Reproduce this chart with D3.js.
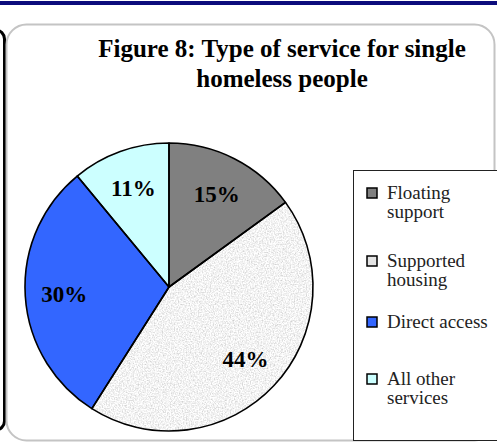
<!DOCTYPE html>
<html>
<head>
<meta charset="utf-8">
<script src="https://cdn.jsdelivr.net/npm/d3@7"></script>
<style>
  body { margin: 0; background: #fff; }
  svg { display: block; }
</style>
</head>
<body>
<div id="wrapper"></div>
<script>
// dados do gráfico
const categories = ["Floating support", "Supported housing", "Direct access", "All other services"]
const shares = [15, 44, 30, 11]
const legendLines = [["Floating", "support"], ["Supported", "housing"], ["Direct access"], ["All other", "services"]]
const titleLines = ["Figure 8: Type of service for single", "homeless people"]

function drawPie() {
    const width = 497
    const height = 443

    const svg = d3.select("#wrapper")
        .append("svg")
            .attr("width", width)
            .attr("height", height)

    // textura salpicada do "Supported housing"
    const defs = svg.append("defs")
    const speckle = defs.append("filter")
        .attr("id", "speckle")
        .attr("x", 0).attr("y", 0).attr("width", 1).attr("height", 1)
    speckle.append("feTurbulence")
        .attr("type", "fractalNoise")
        .attr("baseFrequency", 0.75)
        .attr("numOctaves", 2)
        .attr("seed", 3)
        .attr("result", "noise")
    speckle.append("feColorMatrix")
        .attr("in", "noise")
        .attr("type", "matrix")
        .attr("values", "0.75 0 0 0 0.52  0.75 0 0 0 0.52  0.75 0 0 0 0.52  0 0 0 0 1")
        .attr("result", "grey")
    speckle.append("feComposite")
        .attr("in", "grey")
        .attr("in2", "SourceGraphic")
        .attr("operator", "in")

    // barra azul no topo
    svg.append("rect")
        .attr("x", 0).attr("y", 1)
        .attr("width", width).attr("height", 4)
        .attr("fill", "#0c0c7c")

    // moldura preta à esquerda
    svg.append("rect")
        .attr("x", -30).attr("y", 30)
        .attr("width", 34.5).attr("height", 400)
        .attr("rx", 9)
        .attr("fill", "none")
        .attr("stroke", "#000")
        .attr("stroke-width", 3)

    // moldura cinza arredondada
    svg.append("rect")
        .attr("x", 6.5).attr("y", 24.5)
        .attr("width", 488).attr("height", 416)
        .attr("rx", 20)
        .attr("fill", "none")
        .attr("stroke", "#c4c4c4")
        .attr("stroke-width", 2)

    // título
    svg.append("text")
        .attr("x", 282)
        .attr("y", 57)
        .attr("text-anchor", "middle")
        .style("font-family", "'Liberation Serif', serif")
        .style("font-weight", "bold")
        .style("font-size", "25px")
        .selectAll("tspan")
        .data(titleLines)
        .join("tspan")
            .attr("x", 282)
            .attr("dy", (d, i) => i === 0 ? 0 : 30)
            .text(d => d)

    const color = d3.scaleOrdinal()
        .domain(categories)
        .range(["#808080", "#e4e4e4", "#3366ff", "#ccffff"])

    const cx = 169
    const cy = 287
    const radius = 144

    const pie = d3.pie().sort(null).value(d => d.value)
    const arcs = pie(categories.map((c, i) => ({ name: c, value: shares[i] })))

    const arc = d3.arc().innerRadius(0).outerRadius(radius)
    const labelArc = d3.arc().innerRadius(105).outerRadius(105)

    const bounds = svg.append("g")
        .attr("transform", `translate(${cx},${cy})`)

    bounds.selectAll("path.slice")
        .data(arcs)
        .join("path")
            .attr("class", "slice")
            .attr("d", arc)
            .attr("fill", d => color(d.data.name))
            .attr("filter", d => d.data.name === "Supported housing" ? "url(#speckle)" : null)

    bounds.selectAll("path.outline")
        .data(arcs)
        .join("path")
            .attr("class", "outline")
            .attr("d", arc)
            .attr("fill", "none")
            .attr("stroke", "#000")
            .attr("stroke-width", 1.6)
            .attr("stroke-linejoin", "round")

    bounds.selectAll("text.label")
        .data(arcs)
        .join("text")
            .attr("class", "label")
            .attr("transform", d => `translate(${labelArc.centroid(d)})`)
            .attr("text-anchor", "middle")
            .attr("dy", "0.35em")
            .style("font-family", "'Liberation Serif', serif")
            .style("font-weight", "bold")
            .style("font-size", "23px")
            .text(d => d.data.value + "%")

    // legenda
    const legend = svg.append("g")
    legend.append("rect")
        .attr("x", 353.5).attr("y", 170.5)
        .attr("width", 160).attr("height", 270)
        .attr("fill", "#fff")
        .attr("stroke", "#222")
        .attr("stroke-width", 1)

    const itemY = d3.scaleOrdinal()
        .domain(categories)
        .range([193, 261, 322, 379])

    const items = legend.selectAll("g.item")
        .data(categories)
        .join("g")
            .attr("class", "item")
            .attr("transform", d => `translate(367,${itemY(d)})`)

    items.append("rect")
        .attr("x", 0).attr("y", -5)
        .attr("width", 10).attr("height", 10)
        .attr("fill", d => color(d))
        .attr("stroke", "#000")
        .attr("stroke-width", 1.5)

    items.append("text")
        .attr("y", 6)
        .style("font-family", "'Liberation Serif', serif")
        .style("font-size", "19px")
        .attr("fill", "#222")
        .selectAll("tspan")
        .data((d, i) => legendLines[i])
        .join("tspan")
            .attr("x", 20)
            .attr("dy", (d, i) => i === 0 ? 0 : 19)
            .text(d => d)
}

drawPie()
</script>
</body>
</html>
